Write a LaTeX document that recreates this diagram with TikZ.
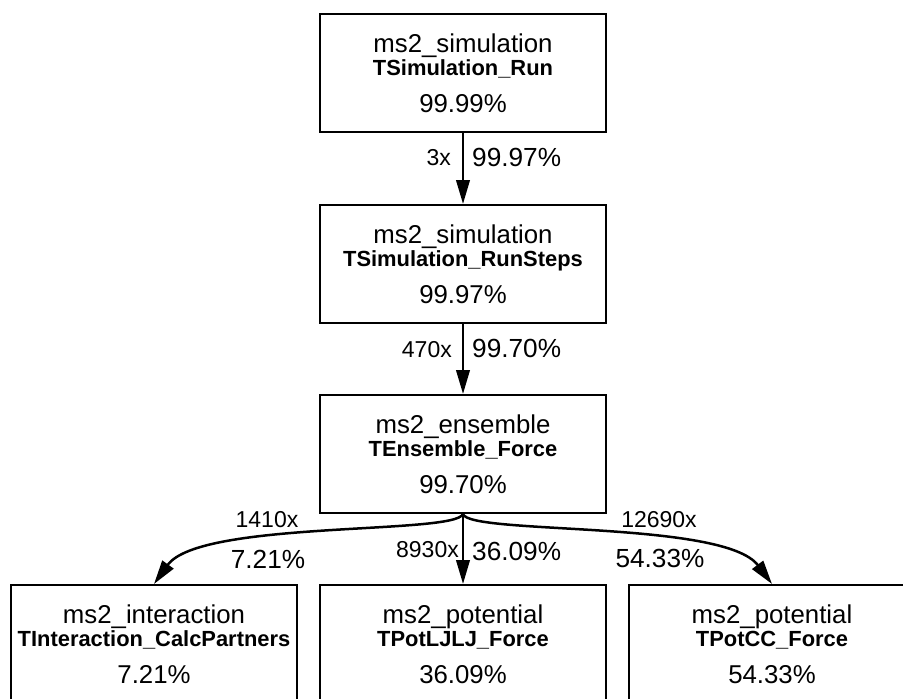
\documentclass[tikz,border=0pt]{standalone}
\usepackage{fontspec}
\setmainfont{Liberation Sans}
\usetikzlibrary{arrows.meta}
\newcommand\profbox[6]{%
  \node[box] (#1) at (#2,#3) {};
  \node[modtxt] (#1-m) at ([yshift=-39pt]#1.north) {#4};
  \node[functxt] (#1-f) at ([yshift=-62pt]#1.north) {#5};
  \node[modtxt] (#1-p) at ([yshift=-99pt]#1.north) {#6};
}
\begin{document}
\begin{tikzpicture}[x=1pt,y=-1pt,
  box/.style={draw, line width=2pt, minimum width=286pt, minimum height=118pt, inner sep=0pt, anchor=north west},
  modtxt/.style={anchor=base, inner sep=0pt, font=\fontsize{25.8}{30}\selectfont},
  functxt/.style={anchor=base, inner sep=0pt, font=\fontsize{21.9}{26}\selectfont\bfseries},
  cnt/.style={inner sep=0pt, font=\fontsize{23}{27}\selectfont},
  pct/.style={inner sep=0pt, font=\fontsize{26.2}{30}\selectfont},
  edge/.style={line width=2.5pt, -{Triangle[length=24pt,width=13.5pt]}}
]
\clip (0,0) rectangle (903,699);
\fill[white] (0,0) rectangle (903,699);

\profbox{run}{319}{13}{ms2\_simulation}{TSimulation\_Run}{99.99\%}
\profbox{steps}{319}{204}{ms2\_simulation}{TSimulation\_RunSteps}{99.97\%}
\profbox{force}{319}{394}{ms2\_ensemble}{TEnsemble\_Force}{99.70\%}
\profbox{inter}{10}{584}{ms2\_interaction}{TInteraction\_CalcPartners}{7.21\%}
\profbox{ljlj}{319}{584}{ms2\_potential}{TPotLJLJ\_Force}{36.09\%}
\profbox{cc}{628}{584}{ms2\_potential}{TPotCC\_Force}{54.33\%}

\draw[edge] (run.south) -- (steps.north);
\draw[edge] (steps.south) -- (force.north);
\draw[edge] (force.south) .. controls (455,535) and (200,520) .. (inter.north);
\draw[edge] (force.south) -- (ljlj.north);
\draw[edge] (force.south) .. controls (469,535) and (724,520) .. (cc.north);

\node[cnt, anchor=base east] (c1) at (451,165) {3x};
\node[pct, anchor=base west] (p1) at (472,166) {99.97\%};
\node[cnt, anchor=base east] (c2) at (452,357) {470x};
\node[pct, anchor=base west] (p2) at (472,357) {99.70\%};
\node[cnt, anchor=base] (c3) at (267,527) {1410x};
\node[pct, anchor=base] (p3) at (268,568) {7.21\%};
\node[cnt, anchor=base east] (c4) at (459,557) {8930x};
\node[pct, anchor=base west] (p4) at (472,560) {36.09\%};
\node[cnt, anchor=base] (c5) at (659,527) {12690x};
\node[pct, anchor=base] (p5) at (660,567) {54.33\%};
\end{tikzpicture}
\end{document}
